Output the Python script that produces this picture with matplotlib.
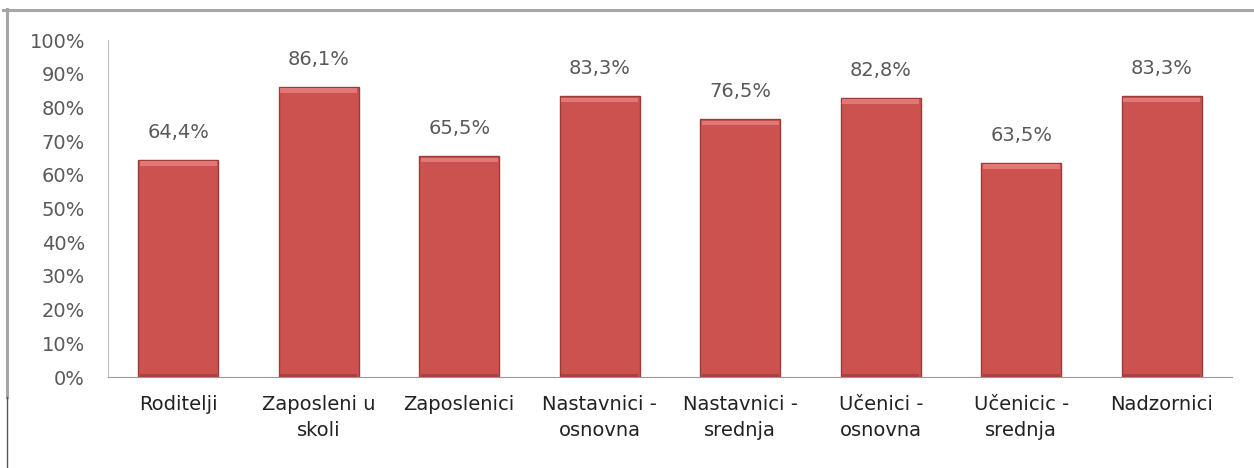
import matplotlib
matplotlib.use("Agg")
import matplotlib.pyplot as plt
from matplotlib.lines import Line2D
import numpy as np

categories = ["Roditelji", "Zaposleni u\nskoli", "Zaposlenici", "Nastavnici -\nosnovna",
              "Nastavnici -\nsrednja", "Učenici -\nosnovna", "Učenicic -\nsrednja", "Nadzornici"]
values = [64.4, 86.1, 65.5, 83.3, 76.5, 82.8, 63.5, 83.3]
value_labels = ["64,4%", "86,1%", "65,5%", "83,3%", "76,5%", "82,8%", "63,5%", "83,3%"]
yticks = [0, 10, 20, 30, 40, 50, 60, 70, 80, 90, 100]
ytick_labels = [f"{t}%" for t in yticks]

plt.rcParams['font.family'] = ['DejaVu Sans']

fig = plt.figure(figsize=(12.54, 4.68), dpi=100)
ax = fig.add_axes([0.0861, 0.1944, 0.8964, 0.7201])

x = np.arange(len(categories))
w = 0.57
# main bar body with a darker rim
ax.bar(x, values, width=w, color="#CB524F", edgecolor="#9E3B39", linewidth=1.0, zorder=2)
# lighter bevel along the top of each bar
ax.bar(x, [1.3] * len(values), bottom=[v - 1.7 for v in values], width=w - 0.02,
       color="#E27875", linewidth=0, zorder=3)
# slightly darker band at the base
ax.bar(x, [1.0] * len(values), width=w - 0.02, color="#A9413F", linewidth=0, zorder=3)

for xi, v, lab in zip(x, values, value_labels):
    ax.annotate(lab, (xi, v), xytext=(0, 16), textcoords="offset points",
                ha="center", va="baseline", fontsize=14, color="#595959")

ax.set_xlim(-0.5, len(categories) - 0.5)
ax.set_ylim(0, 100)
ax.set_yticks(yticks)
ax.set_yticklabels(ytick_labels, fontsize=14, color="#595959")
ax.set_xticks(x)
ax.set_xticklabels(categories, fontsize=14, color="#222222", linespacing=1.45)
ax.tick_params(axis="y", length=0, pad=16.5)
ax.tick_params(axis="x", length=0, pad=13)

for side in ["top", "right"]:
    ax.spines[side].set_visible(False)
ax.spines["left"].set_color("#BFBFBF")
ax.spines["bottom"].set_color("#999999")
ax.spines["left"].set_linewidth(0.8)
ax.spines["bottom"].set_linewidth(0.8)

# outer chart frame (top and left edges)
fig.add_artist(Line2D([3 / 1254, 1], [1 - 9.5 / 468, 1 - 9.5 / 468], transform=fig.transFigure,
                      color="#A6A6A6", linewidth=2.2))
fig.add_artist(Line2D([7 / 1254, 7 / 1254], [1 - 9 / 468, 1 - 397 / 468], transform=fig.transFigure,
                      color="#A6A6A6", linewidth=2.2))
fig.add_artist(Line2D([7 / 1254, 7 / 1254], [1 - 397 / 468, 0], transform=fig.transFigure,
                      color="#555555", linewidth=1.0))

fig.savefig("out.png", dpi=100)
